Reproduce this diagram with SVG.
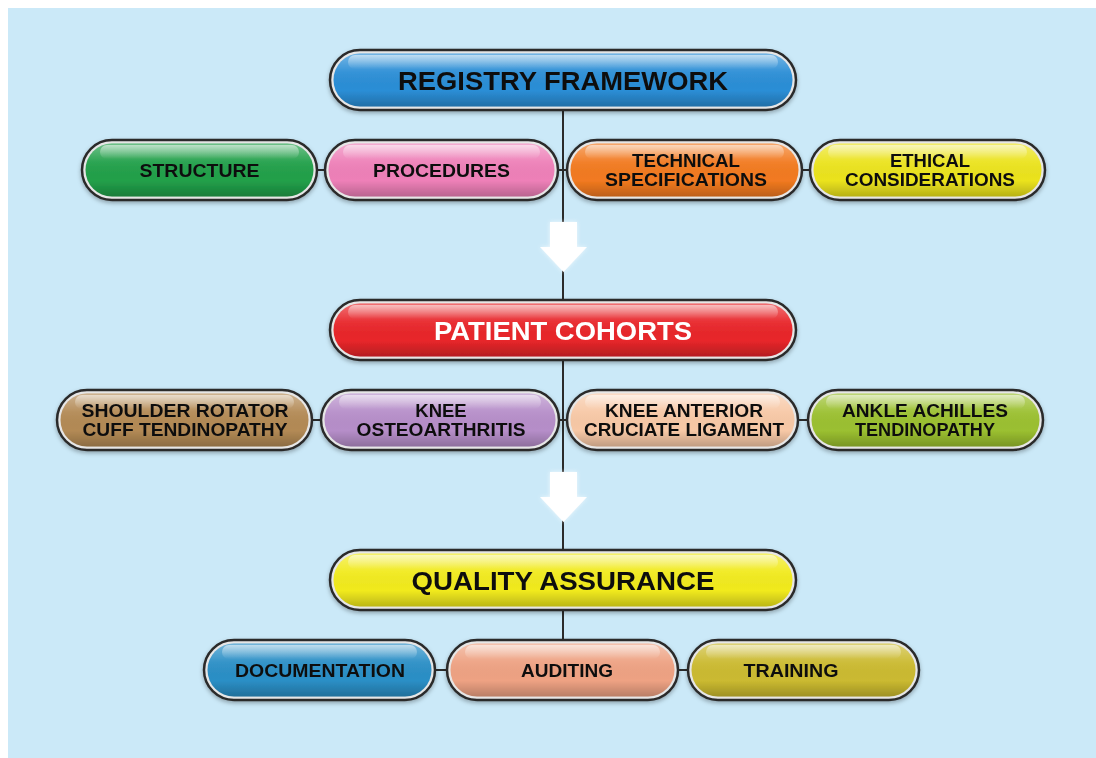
<svg xmlns="http://www.w3.org/2000/svg" width="1096" height="758" viewBox="0 0 1096 758">
<defs>
<linearGradient id="shade" x1="0" y1="0" x2="0" y2="1">
<stop offset="0" stop-color="#ffffff" stop-opacity="0.35"/>
<stop offset="0.35" stop-color="#ffffff" stop-opacity="0.05"/>
<stop offset="0.7" stop-color="#000000" stop-opacity="0"/>
<stop offset="1" stop-color="#000000" stop-opacity="0.22"/>
</linearGradient>
<linearGradient id="hl" x1="0" y1="0" x2="0" y2="1">
<stop offset="0" stop-color="#ffffff" stop-opacity="0.55"/>
<stop offset="1" stop-color="#ffffff" stop-opacity="0"/>
</linearGradient>
<filter id="sh" x="-10%" y="-30%" width="120%" height="170%">
<feDropShadow dx="0" dy="2" stdDeviation="2" flood-color="#000" flood-opacity="0.3"/>
</filter>
<filter id="glow" x="-50%" y="-50%" width="200%" height="200%">
<feGaussianBlur stdDeviation="2"/>
</filter>
<style>
.ring{fill:#e6e6e6;stroke:#2b2b2b;stroke-width:2.5}
.sd{fill:url(#shade)}
.hl{fill:url(#hl)}
.t{font-family:"Liberation Sans",Arial,sans-serif;font-weight:bold;fill:#111;text-anchor:middle}
.big{font-size:26px}
.sm{font-size:18.5px}
.w{fill:#fff}
.con{stroke:#2b2b2b;stroke-width:2;fill:none}
.arr{fill:#fff}
</style>
</defs>
<rect x="0" y="0" width="1096" height="758" fill="#ffffff"/>
<rect x="8" y="8" width="1088" height="750" fill="#cbe9f8"/>

<g id="connectors">
<path class="con" d="M563 110V300M563 360V550M563 610V640"/>
<path class="con" d="M317 170H325M558 170H567M802 170H810"/>
<path class="con" d="M312 420H321M559 420H567M798 420H808"/>
<path class="con" d="M435 670H447M678 670H688"/>
<g id="arrow1">
<polygon points="550,222 577,222 577,247 587,247 563.5,272 540,247 550,247" fill="#fff" opacity="0.7" filter="url(#glow)"/>
<polygon class="arr" points="550,222 577,222 577,247 587,247 563.5,272 540,247 550,247"/>
</g>
<g id="arrow2">
<polygon points="550,472 577,472 577,497 587,497 563.5,522 540,497 550,497" fill="#fff" opacity="0.7" filter="url(#glow)"/>
<polygon class="arr" points="550,472 577,472 577,497 587,497 563.5,522 540,497 550,497"/>
</g>
</g>

<g id="registry-framework" filter="url(#sh)">
<rect class="ring" x="330" y="50" width="466" height="60" rx="30"/>
<rect x="333.5" y="53.5" width="459" height="53" rx="26.5" fill="#2b8ed6"/>
<rect class="sd" x="333.5" y="53.5" width="459" height="53" rx="26.5"/>
<rect class="hl" x="348" y="55" width="430" height="14" rx="7"/>
<text class="t big" x="563" y="90" textLength="330" lengthAdjust="spacingAndGlyphs">REGISTRY FRAMEWORK</text>
</g>

<g id="structure" filter="url(#sh)">
<rect class="ring" x="82" y="140" width="235" height="60" rx="30"/>
<rect x="85.5" y="143.5" width="228" height="53" rx="26.5" fill="#22a04a"/>
<rect class="sd" x="85.5" y="143.5" width="228" height="53" rx="26.5"/>
<rect class="hl" x="100" y="145" width="199" height="14" rx="7"/>
<text class="t sm" x="199.5" y="177" textLength="120" lengthAdjust="spacingAndGlyphs">STRUCTURE</text>
</g>

<g id="procedures" filter="url(#sh)">
<rect class="ring" x="325" y="140" width="233" height="60" rx="30"/>
<rect x="328.5" y="143.5" width="226" height="53" rx="26.5" fill="#ee80b8"/>
<rect class="sd" x="328.5" y="143.5" width="226" height="53" rx="26.5"/>
<rect class="hl" x="343" y="145" width="197" height="14" rx="7"/>
<text class="t sm" x="441.5" y="177" textLength="137" lengthAdjust="spacingAndGlyphs">PROCEDURES</text>
</g>

<g id="technical-specifications" filter="url(#sh)">
<rect class="ring" x="567" y="140" width="235" height="60" rx="30"/>
<rect x="570.5" y="143.5" width="228" height="53" rx="26.5" fill="#f27a20"/>
<rect class="sd" x="570.5" y="143.5" width="228" height="53" rx="26.5"/>
<rect class="hl" x="585" y="145" width="199" height="14" rx="7"/>
<text class="t sm" x="686" y="167" textLength="108" lengthAdjust="spacingAndGlyphs">TECHNICAL</text>
<text class="t sm" x="686" y="186" textLength="162" lengthAdjust="spacingAndGlyphs">SPECIFICATIONS</text>
</g>

<g id="ethical-considerations" filter="url(#sh)">
<rect class="ring" x="810" y="140" width="235" height="60" rx="30"/>
<rect x="813.5" y="143.5" width="228" height="53" rx="26.5" fill="#ebe31e"/>
<rect class="sd" x="813.5" y="143.5" width="228" height="53" rx="26.5"/>
<rect class="hl" x="828" y="145" width="199" height="14" rx="7"/>
<text class="t sm" x="930" y="167">ETHICAL</text>
<text class="t sm" x="930" y="186" textLength="170" lengthAdjust="spacingAndGlyphs">CONSIDERATIONS</text>
</g>

<g id="patient-cohorts" filter="url(#sh)">
<rect class="ring" x="330" y="300" width="466" height="60" rx="30"/>
<rect x="333.5" y="303.5" width="459" height="53" rx="26.5" fill="#e8262a"/>
<rect class="sd" x="333.5" y="303.5" width="459" height="53" rx="26.5"/>
<rect class="hl" x="348" y="305" width="430" height="14" rx="7"/>
<text class="t big w" x="563" y="340" textLength="258" lengthAdjust="spacingAndGlyphs">PATIENT COHORTS</text>
</g>

<g id="shoulder" filter="url(#sh)">
<rect class="ring" x="57" y="390" width="255" height="60" rx="30"/>
<rect x="60.5" y="393.5" width="248" height="53" rx="26.5" fill="#b38a55"/>
<rect class="sd" x="60.5" y="393.5" width="248" height="53" rx="26.5"/>
<rect class="hl" x="75" y="395" width="219" height="14" rx="7"/>
<text class="t sm" x="185" y="417" textLength="207" lengthAdjust="spacingAndGlyphs">SHOULDER ROTATOR</text>
<text class="t sm" x="185" y="436" textLength="205" lengthAdjust="spacingAndGlyphs">CUFF TENDINOPATHY</text>
</g>

<g id="knee-oa" filter="url(#sh)">
<rect class="ring" x="321" y="390" width="238" height="60" rx="30"/>
<rect x="324.5" y="393.5" width="231" height="53" rx="26.5" fill="#b68ec9"/>
<rect class="sd" x="324.5" y="393.5" width="231" height="53" rx="26.5"/>
<rect class="hl" x="339" y="395" width="202" height="14" rx="7"/>
<text class="t sm" x="441" y="417">KNEE</text>
<text class="t sm" x="441" y="436" textLength="169" lengthAdjust="spacingAndGlyphs">OSTEOARTHRITIS</text>
</g>

<g id="knee-acl" filter="url(#sh)">
<rect class="ring" x="567" y="390" width="231" height="60" rx="30"/>
<rect x="570.5" y="393.5" width="224" height="53" rx="26.5" fill="#f7c8a6"/>
<rect class="sd" x="570.5" y="393.5" width="224" height="53" rx="26.5"/>
<rect class="hl" x="585" y="395" width="195" height="14" rx="7"/>
<text class="t sm" x="684" y="417" textLength="158" lengthAdjust="spacingAndGlyphs">KNEE ANTERIOR</text>
<text class="t sm" x="684" y="436" textLength="200" lengthAdjust="spacingAndGlyphs">CRUCIATE LIGAMENT</text>
</g>

<g id="ankle" filter="url(#sh)">
<rect class="ring" x="808" y="390" width="235" height="60" rx="30"/>
<rect x="811.5" y="393.5" width="228" height="53" rx="26.5" fill="#9bc030"/>
<rect class="sd" x="811.5" y="393.5" width="228" height="53" rx="26.5"/>
<rect class="hl" x="826" y="395" width="199" height="14" rx="7"/>
<text class="t sm" x="925" y="417" textLength="166" lengthAdjust="spacingAndGlyphs">ANKLE ACHILLES</text>
<text class="t sm" x="925" y="436" textLength="140" lengthAdjust="spacingAndGlyphs">TENDINOPATHY</text>
</g>

<g id="quality-assurance" filter="url(#sh)">
<rect class="ring" x="330" y="550" width="466" height="60" rx="30"/>
<rect x="333.5" y="553.5" width="459" height="53" rx="26.5" fill="#f1ea1e"/>
<rect class="sd" x="333.5" y="553.5" width="459" height="53" rx="26.5"/>
<rect class="hl" x="348" y="555" width="430" height="14" rx="7"/>
<text class="t big" x="563" y="590" textLength="303" lengthAdjust="spacingAndGlyphs">QUALITY ASSURANCE</text>
</g>

<g id="documentation" filter="url(#sh)">
<rect class="ring" x="204" y="640" width="231" height="60" rx="30"/>
<rect x="207.5" y="643.5" width="224" height="53" rx="26.5" fill="#2b8fc6"/>
<rect class="sd" x="207.5" y="643.5" width="224" height="53" rx="26.5"/>
<rect class="hl" x="222" y="645" width="195" height="14" rx="7"/>
<text class="t sm" x="320" y="677" textLength="170" lengthAdjust="spacingAndGlyphs">DOCUMENTATION</text>
</g>

<g id="auditing" filter="url(#sh)">
<rect class="ring" x="447" y="640" width="231" height="60" rx="30"/>
<rect x="450.5" y="643.5" width="224" height="53" rx="26.5" fill="#eea283"/>
<rect class="sd" x="450.5" y="643.5" width="224" height="53" rx="26.5"/>
<rect class="hl" x="465" y="645" width="195" height="14" rx="7"/>
<text class="t sm" x="567" y="677" textLength="92" lengthAdjust="spacingAndGlyphs">AUDITING</text>
</g>

<g id="training" filter="url(#sh)">
<rect class="ring" x="688" y="640" width="231" height="60" rx="30"/>
<rect x="691.5" y="643.5" width="224" height="53" rx="26.5" fill="#cbba30"/>
<rect class="sd" x="691.5" y="643.5" width="224" height="53" rx="26.5"/>
<rect class="hl" x="706" y="645" width="195" height="14" rx="7"/>
<text class="t sm" x="791" y="677" textLength="95" lengthAdjust="spacingAndGlyphs">TRAINING</text>
</g>
</svg>
